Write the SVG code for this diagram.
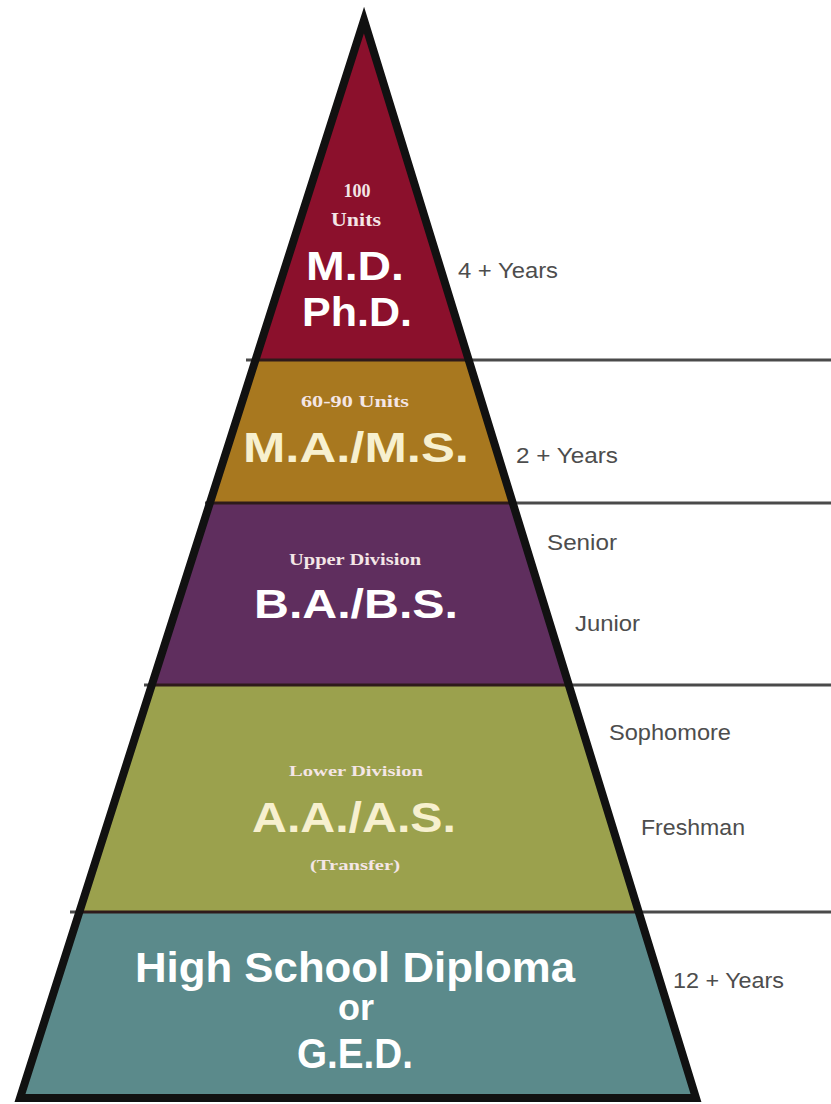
<svg xmlns="http://www.w3.org/2000/svg" width="831" height="1104" viewBox="0 0 831 1104">
  <style>
    .big { font-family: "Liberation Sans", Arial, sans-serif; font-weight: bold; text-anchor: middle; fill: #ffffff; }
    .cream { fill: #f7f0cf; }
    .small { font-family: "Liberation Serif", "Times New Roman", serif; font-weight: bold; text-anchor: middle; fill: #f4e6e6; }
    .side { font-family: "Liberation Sans", Arial, sans-serif; fill: #4d4d4d; font-size: 22px; }
    .rule { stroke: #4a4a4a; stroke-width: 3; fill: none; }
    .band-line { stroke: #2e1a1a; stroke-width: 3; }
  </style>
  <rect width="831" height="1104" fill="#ffffff"/>

  <g id="connectors">
    <line class="rule" x1="246" y1="360" x2="831" y2="360"/>
    <line class="rule" x1="205" y1="503" x2="831" y2="503"/>
    <line class="rule" x1="144" y1="685" x2="831" y2="685"/>
    <line class="rule" x1="70" y1="912" x2="831" y2="912"/>
  </g>

  <g id="band-md">
    <polygon points="364,20 468.7,360 255.5,360" fill="#8b102c"/>
    <text class="small" x="357" y="197" font-size="18">100</text>
    <text class="small" x="356" y="226" font-size="18" textLength="50" lengthAdjust="spacingAndGlyphs">Units</text>
    <text class="big" x="355" y="280" font-size="40" textLength="98" lengthAdjust="spacingAndGlyphs">M.D.</text>
    <text class="big" x="357" y="326" font-size="40" textLength="110" lengthAdjust="spacingAndGlyphs">Ph.D.</text>
  </g>

  <g id="band-ma">
    <polygon points="255.5,360 468.7,360 512.8,503 209.9,503" fill="#a8781f"/>
    <text class="small cream" x="355" y="407" font-size="16" textLength="108" lengthAdjust="spacingAndGlyphs">60-90 Units</text>
    <text class="big cream" x="356" y="462" font-size="43" textLength="226" lengthAdjust="spacingAndGlyphs">M.A./M.S.</text>
  </g>

  <g id="band-ba">
    <polygon points="209.9,503 512.8,503 568.8,685 151.8,685" fill="#5f2e5e"/>
    <text class="small" x="355" y="565" font-size="16" textLength="132" lengthAdjust="spacingAndGlyphs">Upper Division</text>
    <text class="big" x="356" y="618" font-size="40" textLength="204" lengthAdjust="spacingAndGlyphs">B.A./B.S.</text>
  </g>

  <g id="band-aa">
    <polygon points="151.8,685 568.8,685 638.7,912 79.4,912" fill="#9ba14d"/>
    <text class="small cream" x="356" y="776" font-size="15" textLength="134" lengthAdjust="spacingAndGlyphs">Lower Division</text>
    <text class="big cream" x="354" y="832" font-size="42" textLength="204" lengthAdjust="spacingAndGlyphs">A.A./A.S.</text>
    <text class="small cream" x="355" y="870" font-size="14" textLength="90" lengthAdjust="spacingAndGlyphs">(Transfer)</text>
  </g>

  <g id="band-hs">
    <polygon points="79.4,912 638.7,912 696,1098 20,1098" fill="#5b8a8b"/>
    <text class="big" x="355" y="982" font-size="42" textLength="440" lengthAdjust="spacingAndGlyphs">High School Diploma</text>
    <text class="big" x="356" y="1020" font-size="36">or</text>
    <text class="big" x="355" y="1068" font-size="42" textLength="116" lengthAdjust="spacingAndGlyphs">G.E.D.</text>
  </g>

  <g id="band-dividers">
    <line class="band-line" x1="255.5" y1="360" x2="468.7" y2="360"/>
    <line class="band-line" x1="209.9" y1="503" x2="512.8" y2="503"/>
    <line class="band-line" x1="151.8" y1="685" x2="568.8" y2="685"/>
    <line class="band-line" x1="79.4" y1="912" x2="638.7" y2="912"/>
  </g>

  <g id="pyramid-outline">
    <polygon points="364,20 696,1098 20,1098" fill="none" stroke="#111111" stroke-width="8" stroke-linejoin="miter" stroke-miterlimit="10"/>
  </g>

  <g id="side-labels">
    <text class="side" x="458" y="278" textLength="100" lengthAdjust="spacingAndGlyphs">4 + Years</text>
    <text class="side" x="516" y="463" textLength="102" lengthAdjust="spacingAndGlyphs">2 + Years</text>
    <text class="side" x="547" y="550" textLength="70" lengthAdjust="spacingAndGlyphs">Senior</text>
    <text class="side" x="575" y="631" textLength="65" lengthAdjust="spacingAndGlyphs">Junior</text>
    <text class="side" x="609" y="740" textLength="122" lengthAdjust="spacingAndGlyphs">Sophomore</text>
    <text class="side" x="641" y="835" textLength="104" lengthAdjust="spacingAndGlyphs">Freshman</text>
    <text class="side" x="673" y="988" textLength="111" lengthAdjust="spacingAndGlyphs">12 + Years</text>
  </g>
</svg>
